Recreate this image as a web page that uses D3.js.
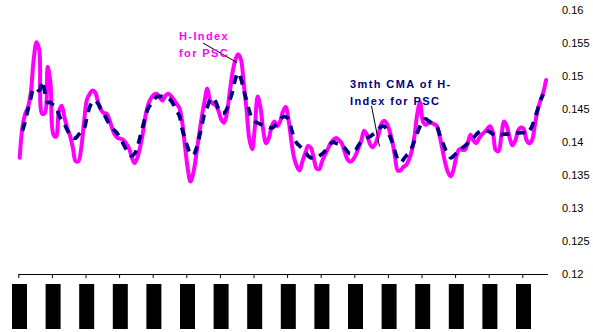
<!DOCTYPE html>
<html>
<head>
<meta charset="utf-8">
<script src="https://cdn.jsdelivr.net/npm/d3@7"></script>
<style>
  html, body { margin: 0; padding: 0; background: #ffffff; }
  svg { display: block; }
  text { font-family: "Liberation Sans", Arial, sans-serif; }
</style>
</head>
<body>
<svg id="chart" width="593" height="332"></svg>
<script>
// Year tick labels (one tick every 12 months)
const yearLabels = ["Jan-90","Jan-91","Jan-92","Jan-93","Jan-94","Jan-95","Jan-96","Jan-97",
                    "Jan-98","Jan-99","Jan-00","Jan-01","Jan-02","Jan-03","Jan-04","Jan-05"];

// Value axis labels
const yTickLabels = ["0.12","0.125","0.13","0.135","0.14","0.145","0.15","0.155","0.16"];

// Monthly H-Index for PSC (one row per year)
const hIndex = [
  0.1376,0.1423,0.1443,0.1453,0.1476,0.1525,0.1551,0.1539,0.1443,0.1444,0.1514,0.1489,
  0.1412,0.1408,0.1446,0.1455,0.1437,0.1421,0.1409,0.1391,0.1371,0.1371,0.1392,0.1431,
  0.1464,0.1473,0.1478,0.1475,0.1460,0.1449,0.1444,0.1443,0.1434,0.1421,0.1411,0.1406,
  0.1405,0.1403,0.1398,0.1391,0.1377,0.1368,0.1376,0.1392,0.1414,0.1441,0.1458,0.1467,
  0.1472,0.1473,0.1467,0.1463,0.1470,0.1473,0.1470,0.1464,0.1458,0.1452,0.1431,0.1395,
  0.1360,0.1340,0.1353,0.1379,0.1409,0.1437,0.1461,0.1481,0.1463,0.1458,0.1456,0.1447,
  0.1434,0.1429,0.1444,0.1475,0.1505,0.1524,0.1533,0.1525,0.1489,0.1450,0.1405,0.1389,
  0.1423,0.1469,0.1452,0.1417,0.1398,0.1406,0.1424,0.1431,0.1424,0.1431,0.1446,0.1453,
  0.1434,0.1402,0.1376,0.1363,0.1357,0.1371,0.1383,0.1394,0.1391,0.1376,0.1360,0.1359,
  0.1371,0.1380,0.1389,0.1398,0.1403,0.1406,0.1403,0.1398,0.1386,0.1374,0.1370,0.1373,
  0.1380,0.1391,0.1402,0.1417,0.1411,0.1398,0.1392,0.1397,0.1409,0.1426,0.1432,0.1429,
  0.1418,0.1402,0.1379,0.1357,0.1357,0.1362,0.1365,0.1373,0.1386,0.1409,0.1443,0.1460,
  0.1431,0.1426,0.1429,0.1429,0.1427,0.1424,0.1409,0.1388,0.1368,0.1354,0.1348,0.1359,
  0.1379,0.1389,0.1388,0.1388,0.1398,0.1411,0.1403,0.1398,0.1405,0.1411,0.1415,0.1420,
  0.1424,0.1415,0.1388,0.1386,0.1409,0.1431,0.1424,0.1406,0.1395,0.1402,0.1417,0.1422,
  0.1420,0.1403,0.1398,0.1403,0.1426,0.1449,0.1463,0.1475,0.1494
];

// 3-month centred moving average (no value for the first and last month)
const cma3 = [
  null,  0.1417,0.1432,0.1450,0.1467,0.1481,0.1481,0.1478,0.1492,0.1475,0.1460,0.1460,
  0.1456,0.1453,0.1441,0.1432,0.1427,0.1418,0.1411,0.1406,0.1406,0.1411,0.1415,0.1420,
  0.1438,0.1453,0.1461,0.1463,0.1458,0.1450,0.1443,0.1435,0.1427,0.1421,0.1417,0.1412,
  0.1405,0.1397,0.1389,0.1382,0.1379,0.1382,0.1392,0.1408,0.1424,0.1440,0.1452,0.1458,
  0.1464,0.1469,0.1469,0.1469,0.1467,0.1466,0.1463,0.1456,0.1447,0.1440,0.1420,0.1405,
  0.1392,0.1382,0.1380,0.1389,0.1405,0.1424,0.1443,0.1453,0.1464,0.1467,0.1461,0.1450,
  0.1444,0.1444,0.1450,0.1463,0.1476,0.1495,0.1505,0.1496,0.1479,0.1463,0.1447,0.1435,
  0.1431,0.1429,0.1427,0.1426,0.1424,0.1423,0.1421,0.1424,0.1429,0.1434,0.1438,0.1438,
  0.1435,0.1420,0.1406,0.1398,0.1394,0.1389,0.1385,0.1379,0.1376,0.1376,0.1376,0.1379,
  0.1382,0.1386,0.1392,0.1397,0.1400,0.1398,0.1397,0.1394,0.1391,0.1386,0.1382,0.1385,
  0.1388,0.1395,0.1400,0.1403,0.1406,0.1408,0.1411,0.1414,0.1418,0.1423,0.1424,0.1420,
  0.1411,0.1400,0.1386,0.1374,0.1369,0.1373,0.1379,0.1383,0.1391,0.1402,0.1414,0.1424,
  0.1432,0.1435,0.1432,0.1429,0.1426,0.1423,0.1411,0.1400,0.1389,0.1382,0.1376,0.1379,
  0.1383,0.1386,0.1391,0.1394,0.1398,0.1403,0.1406,0.1411,0.1415,0.1417,0.1418,0.1417,
  0.1415,0.1412,0.1409,0.1411,0.1411,0.1412,0.1412,0.1412,0.1414,0.1414,0.1414,0.1414,
  0.1414,0.1412,0.1417,0.1424,0.1437,0.1449,0.1463,0.1472,null
];

const svg = d3.select("#chart");

const x = d3.scaleLinear()
  .domain([-0.5, hIndex.length - 0.5])
  .range([18.3, 547.5]);

const y = d3.scaleLinear()
  .domain([+yTickLabels[0], +yTickLabels[yTickLabels.length - 1]])
  .range([274, 10]);

// Category axis along the bottom
const tickIdx = yearLabels.map((_, k) => k * 12 - 0.5);
const xAxis = svg.append("g")
  .attr("transform", "translate(0,274)")
  .call(d3.axisBottom(x).tickValues(tickIdx).tickSize(4).tickSizeOuter(0).tickFormat(""));
xAxis.selectAll("path, line").attr("stroke", "#000");

// Rotated year labels on solid black label blocks
const lab = svg.append("g").selectAll("g")
  .data(yearLabels)
  .join("g")
  .attr("transform", (d, k) => `translate(${x(tickIdx[k]) + 1.2},284)`);
lab.append("rect")
  .attr("x", -7.5).attr("y", 0)
  .attr("width", 15).attr("height", 45)
  .attr("fill", "#000");
lab.append("text")
  .attr("transform", "rotate(-90)")
  .attr("x", -4).attr("y", 4)
  .attr("text-anchor", "end")
  .attr("font-size", 11)
  .attr("fill", "#000")
  .text(d => d);

// Value axis labels on the right
const yAxis = svg.append("g")
  .attr("transform", "translate(562,0)")
  .call(d3.axisRight(y)
    .tickValues(yTickLabels.map(Number))
    .tickFormat((d, i) => yTickLabels[i])
    .tickSize(0).tickPadding(0));
yAxis.select(".domain").remove();
yAxis.selectAll("text")
  .attr("font-family", "'Liberation Sans', Arial, sans-serif")
  .attr("font-size", 11)
  .attr("fill", "#000");

// H-Index series
const hLine = d3.line()
  .x((d, i) => x(i))
  .y(d => y(d))
  .curve(d3.curveCatmullRom.alpha(0.5));

svg.append("path")
  .datum(hIndex)
  .attr("d", hLine)
  .attr("fill", "none")
  .attr("stroke", "#ff00ff")
  .attr("stroke-width", 4)
  .attr("stroke-linejoin", "round")
  .attr("stroke-linecap", "round");

// 3-month CMA series
const cLine = d3.line()
  .defined(d => d != null)
  .x((d, i) => x(i))
  .y(d => y(d))
  .curve(d3.curveCatmullRom.alpha(0.5));

svg.append("path")
  .datum(cma3)
  .attr("d", cLine)
  .attr("fill", "none")
  .attr("stroke", "#000080")
  .attr("stroke-width", 3.75)
  .attr("stroke-dasharray", "9,7");

// Series callouts
function callout(lines, x0, y0, color, lx1, ly1, lx2, ly2) {
  svg.append("line")
    .attr("x1", lx1).attr("y1", ly1).attr("x2", lx2).attr("y2", ly2)
    .attr("stroke", "#000").attr("stroke-width", 1);
  lines.forEach((t, k) => {
    svg.append("text")
      .attr("x", x0).attr("y", y0 + k * 17)
      .attr("font-size", 11)
      .attr("font-weight", "bold")
      .attr("letter-spacing", "1.4px")
      .attr("fill", color)
      .text(t);
  });
}
callout(["H-Index", "for PSC"], 179, 40, "#ff00ff", 203, 43, 237, 62.5);
callout(["3mth CMA of H-", "Index for PSC"], 350, 87.5, "#000080", 371.5, 106, 379.5, 146.5);
</script>
</body>
</html>
